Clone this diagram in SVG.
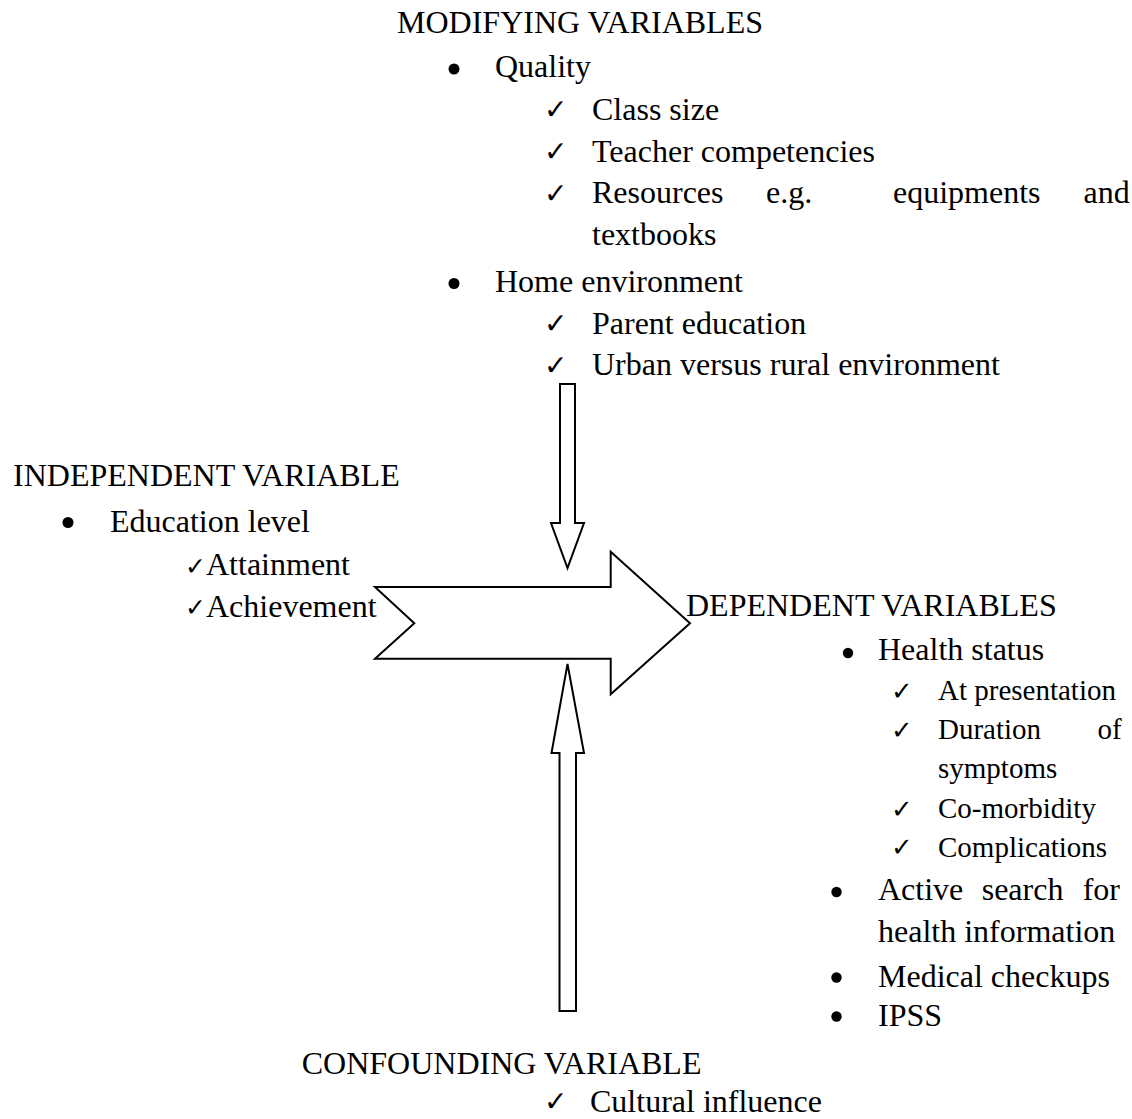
<svg xmlns="http://www.w3.org/2000/svg" width="1132" height="1119" viewBox="0 0 1132 1119">
<style>
  text { font-family: "Liberation Serif", "Times New Roman", serif; fill: #000; }
  .t { font-size: 32px; }
  .s { font-size: 29px; }
  .ck { font-family: "DejaVu Sans", sans-serif; font-size: 28px; }
  .ckl { font-family: "DejaVu Sans", sans-serif; font-size: 25px; }
  .cks { font-family: "DejaVu Sans", sans-serif; font-size: 26px; }
  .bul { fill: #000; }
  .arrow { fill: #fff; stroke: #000; stroke-width: 2; stroke-linejoin: miter; }
</style>
<rect width="1132" height="1119" fill="#fff"/>
<g id="connectors">
  <polygon class="arrow" points="560,384 575,384 575,523 584,523 567.5,568 551,523 560,523"/>
  <polygon class="arrow" points="375,587 610.7,587 610.7,551.7 690,623.3 610.7,694.3 610.7,658.7 375,658.7 414.3,623.3"/>
  <polygon class="arrow" points="567.5,664 584,753 576,753 576,1011 559.5,1011 559.5,753 551.5,753"/>
</g>
<g id="modifying">
  <text class="t" x="397" y="33">MODIFYING VARIABLES</text>
  <circle class="bul" cx="454" cy="69" r="5.5"/>
  <text class="t" x="495" y="77">Quality</text>
  <text class="ck" x="544" y="119">✓</text>
  <text class="t" x="592" y="119.5">Class size</text>
  <text class="ck" x="544" y="161">✓</text>
  <text class="t" x="592" y="161.5">Teacher competencies</text>
  <text class="ck" x="544" y="202.5">✓</text>
  <text class="t" y="203"><tspan x="592">Resources</tspan><tspan x="766">e.g.</tspan><tspan x="893">equipments</tspan><tspan x="1083.5">and</tspan></text>
  <text class="t" x="592" y="245">textbooks</text>
  <circle class="bul" cx="454" cy="283.5" r="5.5"/>
  <text class="t" x="495" y="291.5">Home environment</text>
  <text class="ck" x="544" y="333">✓</text>
  <text class="t" x="592" y="333.5">Parent education</text>
  <text class="ck" x="544" y="374.5">✓</text>
  <text class="t" x="592" y="375">Urban versus rural environment</text>
</g>
<g id="independent">
  <text class="t" x="13" y="486">INDEPENDENT VARIABLE</text>
  <circle class="bul" cx="68" cy="522.5" r="5.5"/>
  <text class="t" x="110" y="531.7">Education level</text>
  <text class="ckl" x="185" y="574.5">✓</text>
  <text class="t" x="206" y="575">Attainment</text>
  <text class="ckl" x="185" y="616">✓</text>
  <text class="t" x="206" y="616.7">Achievement</text>
</g>
<g id="dependent">
  <text class="t" x="686" y="616">DEPENDENT VARIABLES</text>
  <circle class="bul" cx="848" cy="653" r="5.2"/>
  <text class="t" x="878" y="660">Health status</text>
  <text class="cks" x="891" y="699.5">✓</text>
  <text class="s" x="938" y="700">At presentation</text>
  <text class="cks" x="891" y="738.5">✓</text>
  <text class="s" x="938" y="739">Duration</text>
  <text class="s" x="1121.7" y="739" text-anchor="end">of</text>
  <text class="s" x="938" y="778">symptoms</text>
  <text class="cks" x="891" y="817.5">✓</text>
  <text class="s" x="938" y="818">Co-morbidity</text>
  <text class="cks" x="891" y="856">✓</text>
  <text class="s" x="938" y="856.7">Complications</text>
  <circle class="bul" cx="836.5" cy="892" r="5.2"/>
  <text class="t" y="900"><tspan x="878">Active</tspan><tspan x="981.7">search</tspan></text>
  <text class="t" x="1120" y="900" text-anchor="end">for</text>
  <text class="t" x="878" y="941.7">health information</text>
  <circle class="bul" cx="836.5" cy="977.5" r="5.2"/>
  <text class="t" x="878" y="986.7">Medical checkups</text>
  <circle class="bul" cx="836.5" cy="1016.5" r="5.2"/>
  <text class="t" x="878" y="1025.5">IPSS</text>
</g>
<g id="confounding">
  <text class="t" x="301.7" y="1074">CONFOUNDING VARIABLE</text>
  <text class="ck" x="544" y="1111">✓</text>
  <text class="t" x="590" y="1111.7">Cultural influence</text>
</g>
</svg>
